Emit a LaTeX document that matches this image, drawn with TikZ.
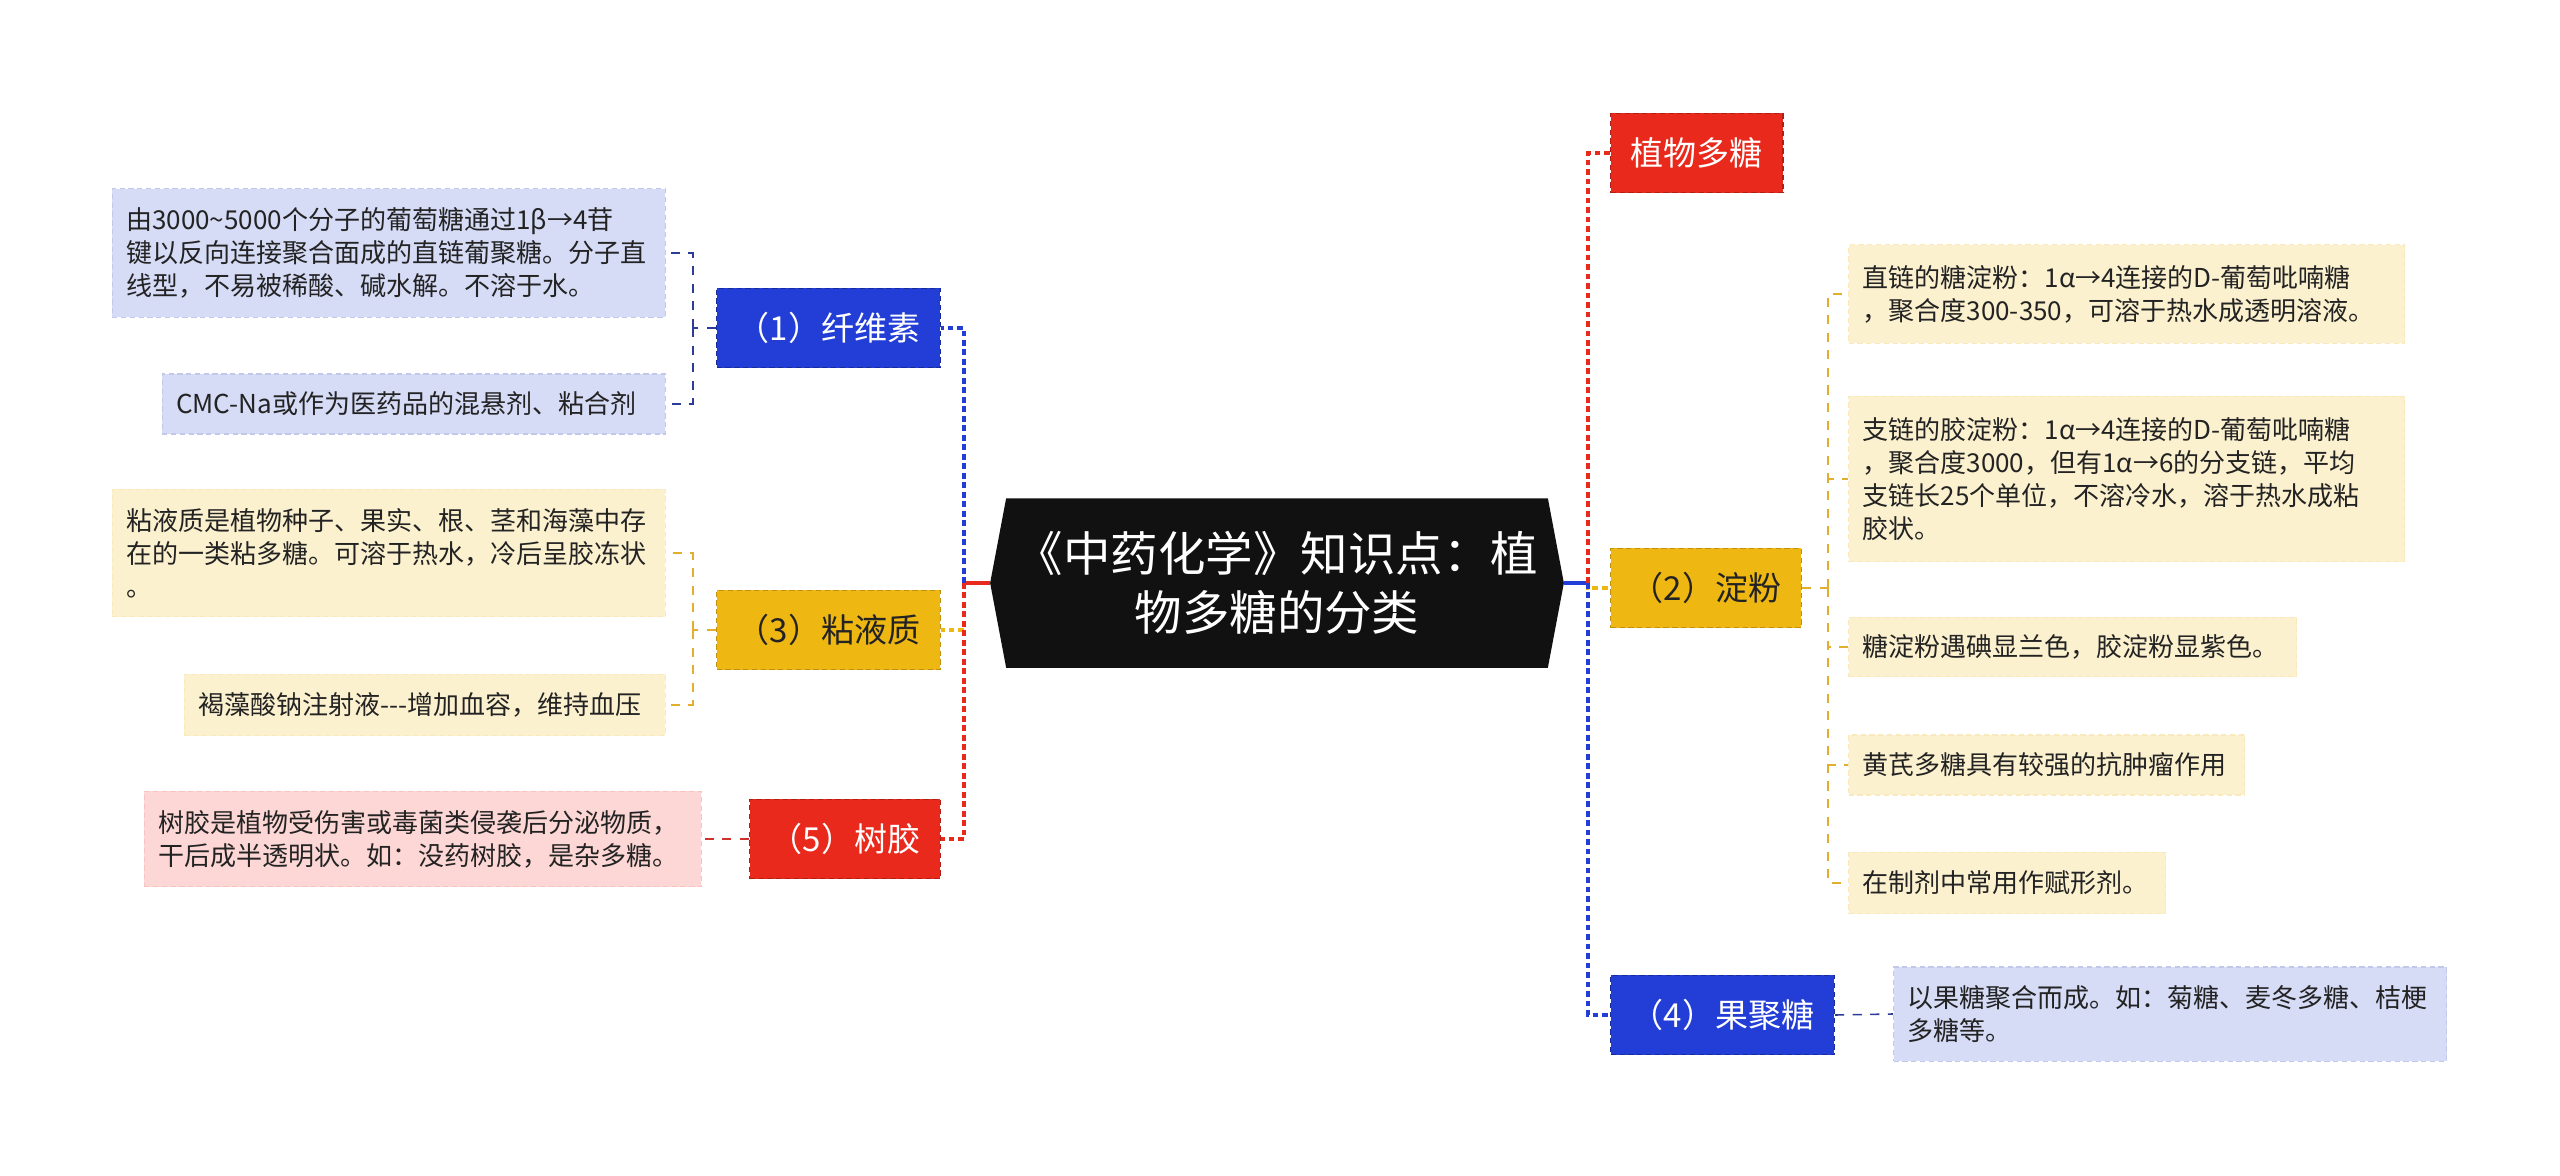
\documentclass[tikz,border=0pt]{standalone}
\usepackage{fontspec}
\setmainfont{Noto Sans CJK SC}
\usetikzlibrary{backgrounds}

\definecolor{topicred}{RGB}{233,41,28}
\definecolor{topicblue}{RGB}{35,62,214}
\definecolor{topicyellow}{RGB}{238,183,18}
\definecolor{leafblue}{RGB}{214,219,246}
\definecolor{leafyellow}{RGB}{252,241,207}
\definecolor{leafred}{RGB}{252,215,213}
\definecolor{rootblack}{RGB}{17,17,17}
\definecolor{ink}{RGB}{35,35,35}
\definecolor{lineblue}{RGB}{45,60,150}
\definecolor{lineyellow}{RGB}{225,175,45}
\definecolor{linered}{RGB}{205,50,45}

\begin{document}
\begin{tikzpicture}[x=0.01cm, y=-0.01cm,
  root/.style={minimum width=5.72cm, minimum height=1.68cm, text=white, align=center,
    font=\fontsize{13.5}{16.8}\selectfont},
  branch/.style={draw, dash pattern=on 1.5pt off 1pt, line width=0.4pt, minimum height=0.79cm,
    inner xsep=0.2cm, font=\fontsize{9.4}{11}\selectfont},
  leaf/.style={draw, dash pattern=on 1.5pt off 1pt, line width=0.3pt, align=left,
    inner xsep=0.14cm, text=ink, font=\fontsize{7.4}{9.4}\selectfont},
  mainlink/.style={line width=1.1pt, dash pattern=on 1.6pt off 1.1pt},
  leaflink/.style={line width=0.45pt, dash pattern=on 2.6pt off 2.4pt}]
\useasboundingbox (0,0) rectangle (2560,1176);

% centre topic
\node[root] (root) at (1277,583) {《中药化学》知识点：植\\物多糖的分类};
\begin{scope}[on background layer]
\fill[rootblack] (root.west) -- ([xshift=0.16cm]root.north west) -- ([xshift=-0.16cm]root.north east)
  -- (root.east) -- ([xshift=-0.16cm]root.south east) -- ([xshift=0.16cm]root.south west) -- cycle;
\end{scope}

% left side
\node[branch, fill=topicblue, draw=topicblue!70!black, text=white, anchor=east] (fiber) at (941,328) {（1）纤维素};
\node[branch, fill=topicyellow, draw=topicyellow!80!black, text=ink, anchor=east] (mucil) at (941,630) {（3）粘液质};
\node[branch, fill=topicred, draw=topicred!75!black, text=white, anchor=east] (gum) at (941,839) {（5）树胶};

\node[leaf, fill=leafblue, draw=leafblue!88!lineblue, text width=5.25cm, minimum height=1.28cm, anchor=east] (fiber1) at (666,253)
  {由3000\textasciitilde5000个分子的葡萄糖通过1β→4苷\\键以反向连接聚合面成的直链葡聚糖。分子直\\线型，不易被稀酸、碱水解。不溶于水。};
\node[leaf, fill=leafblue, draw=leafblue!88!lineblue, text width=4.75cm, minimum height=0.60cm, anchor=east] (fiber2) at (666,404)
  {CMC-Na或作为医药品的混悬剂、粘合剂};
\node[leaf, fill=leafyellow, draw=leafyellow!88!lineyellow, text width=5.25cm, minimum height=1.27cm, anchor=east] (mucil1) at (666,553)
  {粘液质是植物种子、果实、根、茎和海藻中存\\在的一类粘多糖。可溶于热水，冷后呈胶冻状\\。};
\node[leaf, fill=leafyellow, draw=leafyellow!88!lineyellow, text width=4.53cm, minimum height=0.61cm, anchor=east] (mucil2) at (666,705)
  {褐藻酸钠注射液-{}-{}-增加血容，维持血压};
\node[leaf, fill=leafred, draw=leafred!88!linered, text width=5.29cm, minimum height=0.95cm, anchor=east] (gum1) at (702,839)
  {树胶是植物受伤害或毒菌类侵袭后分泌物质，\\干后成半透明状。如：没药树胶，是杂多糖。};

% right side
\node[branch, fill=topicred, draw=topicred!75!black, text=white, anchor=west] (plant) at (1610,153) {植物多糖};
\node[branch, fill=topicyellow, draw=topicyellow!80!black, text=ink, anchor=west] (starch) at (1610,588) {（2）淀粉};
\node[branch, fill=topicblue, draw=topicblue!70!black, text=white, anchor=west] (fruct) at (1610,1015) {（4）果聚糖};

\node[leaf, fill=leafyellow, draw=leafyellow!88!lineyellow, text width=5.28cm, minimum height=0.98cm, anchor=west] (starch1) at (1848,294)
  {直链的糖淀粉：1α→4连接的D-葡萄吡喃糖\\，聚合度300-350，可溶于热水成透明溶液。};
\node[leaf, fill=leafyellow, draw=leafyellow!88!lineyellow, text width=5.28cm, minimum height=1.65cm, anchor=west] (starch2) at (1848,479)
  {支链的胶淀粉：1α→4连接的D-葡萄吡喃糖\\，聚合度3000，但有1α→6的分支链，平均\\支链长25个单位，不溶冷水，溶于热水成粘\\胶状。};
\node[leaf, fill=leafyellow, draw=leafyellow!88!lineyellow, text width=4.20cm, minimum height=0.59cm, anchor=west] (starch3) at (1848,647)
  {糖淀粉遇碘显兰色，胶淀粉显紫色。};
\node[leaf, fill=leafyellow, draw=leafyellow!88!lineyellow, text width=3.68cm, minimum height=0.60cm, anchor=west] (starch4) at (1848,765)
  {黄芪多糖具有较强的抗肿瘤作用};
\node[leaf, fill=leafyellow, draw=leafyellow!88!lineyellow, text width=2.89cm, minimum height=0.61cm, anchor=west] (starch5) at (1848,883)
  {在制剂中常用作赋形剂。};
\node[leaf, fill=leafblue, draw=leafblue!88!lineblue, text width=5.25cm, minimum height=0.94cm, anchor=west] (fruct1) at (1893,1014)
  {以果糖聚合而成。如：菊糖、麦冬多糖、桔梗\\多糖等。};

% connectors from the centre
\coordinate (jl) at ([xshift=-0.26cm]root.west);
\coordinate (jr) at ([xshift=0.24cm]root.east);
\draw[topicred, line width=1.1pt] (root.west) -- (jl);
\draw[mainlink, topicyellow] (jl) |- (mucil.east);
\draw[mainlink, topicblue] (jl) |- (fiber.east);
\draw[mainlink, topicred] (jl) |- (gum.east);
\draw[topicblue, line width=1.1pt] (root.east) -- (jr);
\draw[mainlink, topicyellow] (jr) |- (starch.west);
\draw[mainlink, topicred] (jr) |- (plant.west);
\draw[mainlink, topicblue] (jr) |- (fruct.west);

% connectors to the leaves
\coordinate (bf) at ([xshift=-0.23cm]fiber.west);
\draw[leaflink, lineblue] (fiber.west) -- (bf);
\draw[leaflink, lineblue] (bf) |- (fiber1.east);
\draw[leaflink, lineblue] (bf) |- (fiber2.east);
\coordinate (bm) at ([xshift=-0.23cm]mucil.west);
\draw[leaflink, lineyellow] (mucil.west) -- (bm);
\draw[leaflink, lineyellow] (bm) |- (mucil1.east);
\draw[leaflink, lineyellow] (bm) |- (mucil2.east);
\draw[leaflink, linered] (gum.west) -- (gum1.east);
\coordinate (bs) at ([xshift=0.26cm]starch.east);
\draw[leaflink, lineyellow] (starch.east) -- (bs);
\foreach \leafname in {starch1,starch2,starch3,starch4,starch5}
  \draw[leaflink, lineyellow] (bs) |- (\leafname.west);
\draw[leaflink, lineblue] (fruct.east) -- (fruct1.west);
\end{tikzpicture}
\end{document}
